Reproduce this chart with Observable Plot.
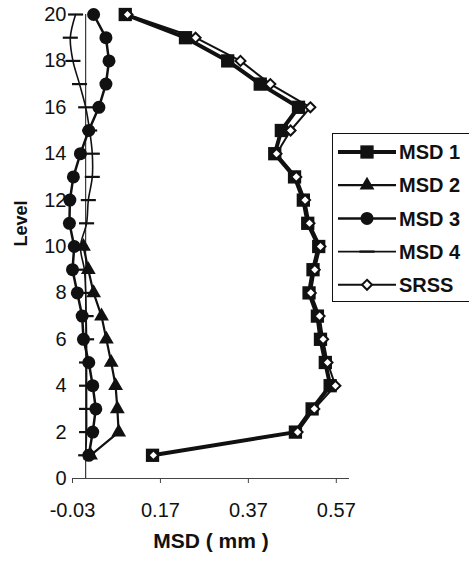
<!DOCTYPE html>
<html><head><meta charset="utf-8">
<script src="https://cdn.jsdelivr.net/npm/d3@7"></script>
<script src="https://cdn.jsdelivr.net/npm/@observablehq/plot@0.6"></script>
<style>
body{margin:0;background:#fff}
#chart{position:relative;width:469px;height:565px;overflow:hidden}
</style>
</head><body><div id="chart"></div>
<script>
// ---- data ----
const levels = [1,2,3,4,5,6,7,8,9,10,11,12,13,14,15,16,17,18,19,20];
const msd1 = [0.152,0.477,0.515,0.556,0.545,0.534,0.527,0.508,0.517,0.530,0.505,0.495,0.475,0.430,0.445,0.484,0.397,0.323,0.227,0.090];
const msd2Levels = [1,2,3,4,5,6,7,8,9,10];
const msd2 = [0.011,0.075,0.072,0.068,0.058,0.047,0.036,0.018,0.006,-0.005];
const msd3 = [0.007,0.016,0.023,0.016,0.007,-0.005,-0.008,-0.019,-0.030,-0.026,-0.037,-0.036,-0.028,-0.012,0.007,0.030,0.046,0.053,0.046,0.018];
const msd4 = [0.000,0.002,0.002,0.002,0.002,0.002,0.001,0.000,-0.003,-0.012,0.002,0.006,0.015,0.015,0.009,0.000,-0.014,-0.029,-0.035,-0.023];
const srss = [0.154,0.482,0.520,0.568,0.550,0.540,0.532,0.512,0.521,0.534,0.509,0.499,0.479,0.434,0.466,0.511,0.420,0.352,0.250,0.095];
const xTicks = [-0.03,0.17,0.37,0.57];
const yTicks = [0,2,4,6,8,10,12,14,16,18,20];
const seriesNames = ["MSD 1","MSD 2","MSD 3","MSD 4","SRSS"];

const toRows = (xs, ls) => xs.map((v,i)=>({x:v, level:ls[i]}));
const d1 = toRows(msd1, levels), d2 = toRows(msd2, msd2Levels), d3r = toRows(msd3, levels),
      d4 = toRows(msd4, levels), d5 = toRows(srss, levels);

const INK = "#111";
const FONT = "'Liberation Sans', Arial, Helvetica, sans-serif";
const dash = {draw(ctx, size){ const h = Math.sqrt(size)/2; ctx.moveTo(-h,0); ctx.lineTo(h,0); }};

const plot = Plot.plot({
  width: 469, height: 565,
  marginLeft: 72, marginRight: 120, marginTop: 14, marginBottom: 87,
  style: {fontFamily: FONT, fontSize: "20px", color: INK, background: "#fff"},
  x: {domain: [-0.03, 0.6]},
  y: {domain: [0, 20]},
  marks: [
    Plot.ruleY([0], {x1: -0.03, x2: 0.6, stroke: "#444", strokeWidth: 1}),
    Plot.ruleX([0], {y1: 0, y2: 20, stroke: INK, strokeWidth: 1}),
    Plot.axisX({ticks: xTicks, tickFormat: d => d.toFixed(2), tickSize: 5, tickPadding: 19, label: null, stroke: "#444"}),
    Plot.axisY({ticks: yTicks, tickFormat: d => String(d), tickSize: 0, tickPadding: 6, label: null}),
    Plot.text(["MSD ( mm )"], {frameAnchor: "bottom", dy: 69, fontWeight: "bold", fontSize: 21, fill: INK}),
    Plot.text(["Level"], {frameAnchor: "left", dx: -51, rotate: -90, fontWeight: "bold", fontSize: 18, fill: INK}),
    // MSD 1
    Plot.line(d1, {x: "x", y: "level", stroke: INK, strokeWidth: 4}),
    Plot.dot(d1, {x: "x", y: "level", symbol: "square", r: 7.5, fill: INK}),
    // MSD 2
    Plot.line(d2, {x: "x", y: "level", stroke: INK, strokeWidth: 2.2}),
    Plot.dot(d2, {x: "x", y: "level", symbol: "triangle", r: 5.5, fill: INK}),
    // MSD 3
    Plot.line(d3r, {x: "x", y: "level", stroke: INK, strokeWidth: 2.5}),
    Plot.dot(d3r, {x: "x", y: "level", symbol: "circle", r: 6.5, fill: INK}),
    // MSD 4
    Plot.line(d4, {x: "x", y: "level", stroke: INK, strokeWidth: 1.6, curve: "catmull-rom"}),
    Plot.dot(d4, {x: "x", y: "level", symbol: dash, r: 8.5, stroke: INK, strokeWidth: 2.2, fill: "none"}),
    // SRSS
    Plot.line(d5, {x: "x", y: "level", stroke: INK, strokeWidth: 2}),
    Plot.dot(d5, {x: "x", y: "level", symbol: "diamond2", r: 4.5, fill: "#fff", stroke: INK, strokeWidth: 2})
  ]
});
document.getElementById("chart").appendChild(plot);

// ---- legend (drawn into the same svg) ----
const svg = d3.select(plot);
const lg = svg.append("g").attr("font-family", FONT).attr("text-anchor", "start");
lg.append("rect").attr("x", 332.5).attr("y", 133.5).attr("width", 160).attr("height", 168)
  .attr("fill", "#fff").attr("stroke", INK).attr("stroke-width", 1);
const legendSpecs = [
  {sym: d3.symbolSquare, size: Math.PI*7.5*7.5, fill: INK, stroke: "none", sw: 0, lw: 4},
  {sym: d3.symbolTriangle, size: Math.PI*5.5*5.5, fill: INK, stroke: "none", sw: 0, lw: 2.2},
  {sym: d3.symbolCircle, size: Math.PI*6.5*6.5, fill: INK, stroke: "none", sw: 0, lw: 2.5},
  {sym: dash, size: Math.PI*8.5*8.5, fill: "none", stroke: INK, sw: 2.2, lw: 1.6},
  {sym: d3.symbolDiamond2, size: Math.PI*4.5*4.5, fill: "#fff", stroke: INK, sw: 2, lw: 2}
];
seriesNames.forEach((name, i) => {
  const y = 152 + i*33.2;
  const s = legendSpecs[i];
  lg.append("line").attr("x1", 338).attr("x2", 396).attr("y1", y).attr("y2", y)
    .attr("stroke", INK).attr("stroke-width", s.lw);
  lg.append("path").attr("d", d3.symbol(s.sym, s.size)()).attr("transform", `translate(367,${y})`)
    .attr("fill", s.fill).attr("stroke", s.stroke).attr("stroke-width", s.sw);
  lg.append("text").attr("x", 399).attr("y", y).attr("dy", "0.36em").attr("text-anchor", "start")
    .attr("font-size", 20).attr("font-weight", "bold").attr("fill", INK).text(name);
});
</script>
</body></html>
